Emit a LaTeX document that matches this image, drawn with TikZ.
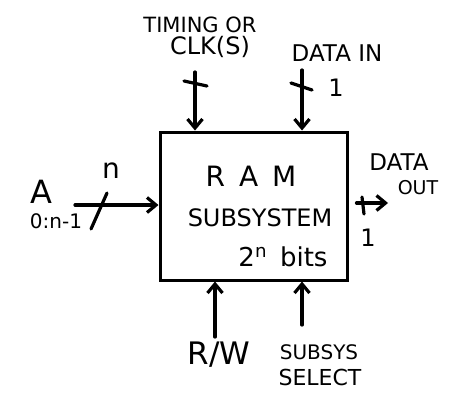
\documentclass[tikz,border=0pt]{standalone}
\usepackage{fontspec}
\setmainfont{DejaVu Sans}
\usetikzlibrary{arrows.meta}
\begin{document}
\begin{tikzpicture}[x=1pt,y=-1pt,
  wire/.style={line width=3.2pt,-{Straight Barb[length=9pt,width=15pt,line width=3.2pt]},line cap=round},
  tick/.style={line width=3.2pt,line cap=round},
  lbl/.style={inner sep=0pt,font=\fontsize{20}{22}\selectfont}]
\useasboundingbox (0,0) rectangle (457,402);
\node[draw,line width=3pt,minimum width=187pt,minimum height=148pt,inner sep=0pt] (ram) at (253.5,206) {};
\node[lbl,font=\fontsize{28}{30}\selectfont] (t1) at (251,176) {R\hspace{0.5em}A\hspace{0.5em}M};
\node[lbl,font=\fontsize{24}{26}\selectfont] (t2) at (260,218) {SUBSYSTEM};
\node[lbl,font=\fontsize{26}{28}\selectfont] (t3) at (283,257) {2\textsuperscript{n}\hspace{0.5em}bits};
% top
\node[lbl,font=\fontsize{21}{22}\selectfont] (tim) at (200,25) {TIMING OR};
\node[lbl,font=\fontsize{24}{26}\selectfont] (clk) at (210,47) {CLK(S)};
\node[lbl,font=\fontsize{23}{24}\selectfont] (din) at (337,53) {DATA IN};
\coordinate (c1) at (195,72);
\coordinate (c2) at (302,70);
\draw[wire] (c1) -- (c1 |- ram.north);
\draw[wire] (c2) -- (c2 |- ram.north);
\coordinate (k1) at (195,83);
\coordinate (k2) at (302,87);
\draw[tick] ([xshift=-11pt,yshift=2pt]k1) -- ([xshift=12pt,yshift=-3pt]k1);
\draw[tick] ([xshift=-11pt,yshift=4pt]k2) -- ([xshift=10pt,yshift=-3pt]k2);
\node[lbl,font=\fontsize{24}{26}\selectfont] (one1) at (336,88) {1};
% left
\node[lbl,font=\fontsize{32}{34}\selectfont] (A) at (41,192) {A};
\node[lbl] (sub) at (56,221) {0:n-1};
\node[lbl,font=\fontsize{28}{30}\selectfont] (n) at (111,171) {n};
\coordinate (la) at (75,205);
\draw[wire] (la) -- (la -| ram.west);
\draw[tick] (91,229) -- (107,193);
% right
\coordinate (ra) at (ram.east |- 0,203);
\coordinate (re) at (388,203);
\draw[wire] ([xshift=8pt]ra) -- (re);
\draw[tick] (362,197) -- (364,214);
\node[lbl,font=\fontsize{23}{24}\selectfont] (dat) at (399,162) {DATA};
\node[lbl,font=\fontsize{19}{20}\selectfont] (out) at (418,188) {OUT};
\node[lbl,font=\fontsize{24}{26}\selectfont] (one2) at (368,238) {1};
% bottom
\coordinate (b1) at (215,337);
\coordinate (b2) at (302,325);
\draw[wire] (b1) -- (b1 |- ram.south);
\draw[wire] (b2) -- (b2 |- ram.south);
\node[lbl,font=\fontsize{31}{32}\selectfont] (rw) at (219,355) {R/W};
\node[lbl] (ss1) at (319,352) {SUBSYS};
\node[lbl,font=\fontsize{22}{24}\selectfont] (ss2) at (320,377) {SELECT};
\end{tikzpicture}
\end{document}
